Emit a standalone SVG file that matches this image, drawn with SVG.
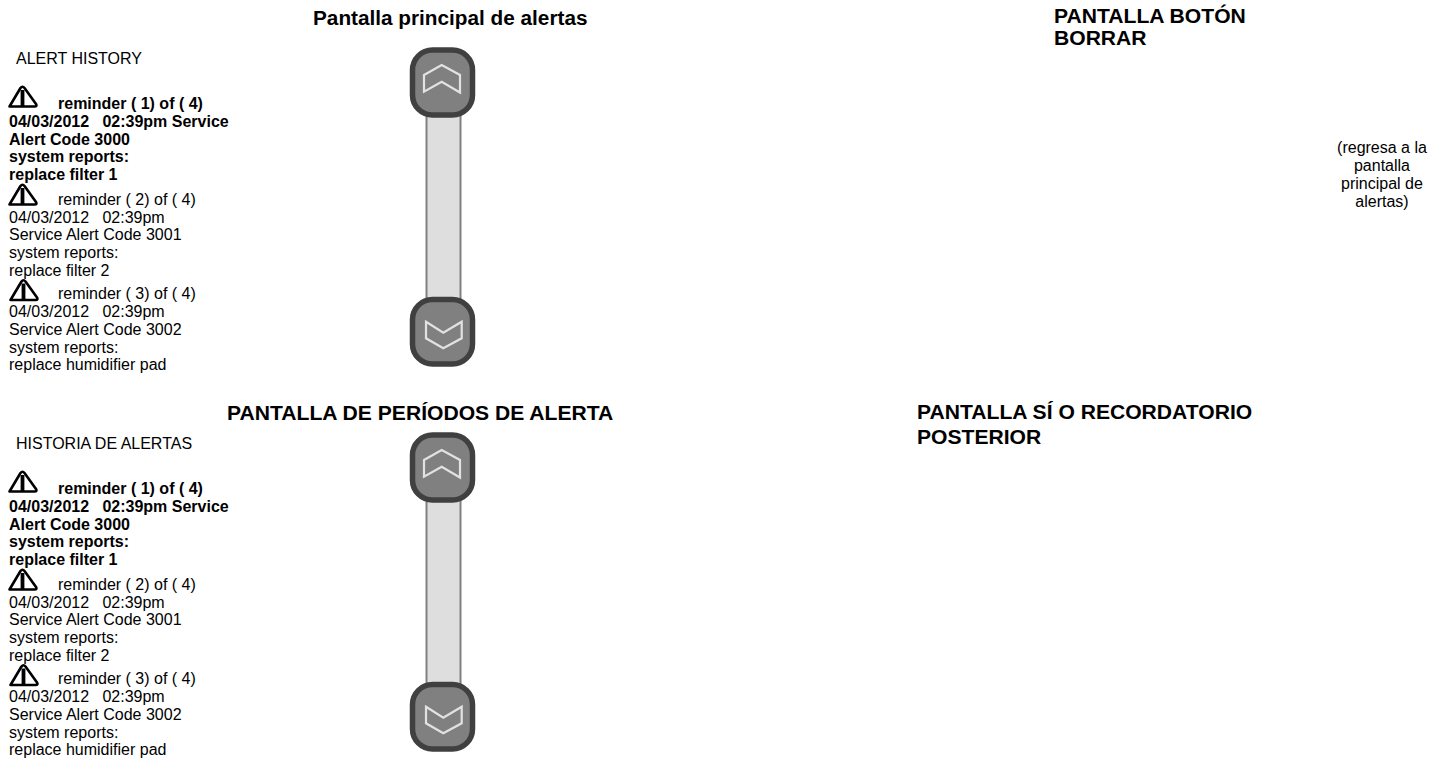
<svg xmlns="http://www.w3.org/2000/svg" width="1444" height="759" viewBox="0 0 1444 759">
<style>
text{font-family:"Liberation Sans",Arial,sans-serif;fill:#000;white-space:pre}
.t{font-size:20.75px;font-weight:bold}
.h{font-size:21.1px;font-weight:bold}
.b{font-size:16px}
.bb{font-size:16px;font-weight:bold}
.c{font-size:16px;text-anchor:middle}
.btn{fill:#808080;stroke:#404040;stroke-width:5.5}
.trk{fill:#dedede;stroke:#808080;stroke-width:2}
.chev{fill:none;stroke:#e2e2e2;stroke-width:2.2}
</style>
<defs>
<g id="warn">
<path d="M2.5 21.5 L13.5 3 Q15.5 0.5 17.5 3 L29 19 Q30.5 21.5 27.5 21.5 Z" fill="none" stroke="#000" stroke-width="2.6" stroke-linejoin="round"/>
<path d="M15.5 5 L15.5 22" stroke="#000" stroke-width="3.8" fill="none"/>
</g>
<g id="alerts">
<use href="#warn" x="7" y="85"/>
<text class="bb" x="58" y="109">reminder ( 1) of ( 4)</text>
<text class="bb" x="9" y="127">04/03/2012   02:39pm Service</text>
<text class="bb" x="9" y="145">Alert Code 3000</text>
<text class="bb" x="9" y="162">system reports:</text>
<text class="bb" x="9" y="180">replace filter 1</text>
<use href="#warn" x="7" y="183"/>
<text class="b" x="58" y="205">reminder ( 2) of ( 4)</text>
<text class="b" x="9" y="223">04/03/2012   02:39pm</text>
<text class="b" x="9" y="240">Service Alert Code 3001</text>
<text class="b" x="9" y="258">system reports:</text>
<text class="b" x="9" y="276">replace filter 2</text>
<use href="#warn" x="8" y="278.5"/>
<text class="b" x="58" y="299">reminder ( 3) of ( 4)</text>
<text class="b" x="9" y="317">04/03/2012   02:39pm</text>
<text class="b" x="9" y="335">Service Alert Code 3002</text>
<text class="b" x="9" y="353">system reports:</text>
<text class="b" x="9" y="370">replace humidifier pad</text>
</g>
<g id="scroll">
<rect class="trk" x="426.5" y="112" width="34" height="190"/>
<rect class="btn" x="412.5" y="50" width="60" height="65" rx="20"/>
<path class="chev" d="M424 75 L441.7 65 L460 75 L460 92.5 L441.7 81.7 L424 91.7 Z"/>
<rect class="btn" x="412.5" y="299.5" width="60" height="64.5" rx="20"/>
<path class="chev" d="M426 321.7 L443.3 332.7 L461.7 321.7 L461.7 338.3 L443.3 348.3 L426 338.3 Z"/>
</g>
</defs>
<g id="pantalla-principal">
<text class="t" x="313" y="25">Pantalla principal de alertas</text>
<text class="b" x="16" y="64">ALERT HISTORY</text>
<use href="#alerts"/>
<use href="#scroll"/>
</g>
<g id="pantalla-boton-borrar">
<text class="h" x="1054" y="23">PANTALLA BOTÓN</text>
<text class="h" x="1054" y="45">BORRAR</text>
<text class="c" x="1382" y="153">(regresa a la</text>
<text class="c" x="1382" y="171">pantalla</text>
<text class="c" x="1382" y="189">principal de</text>
<text class="c" x="1382" y="207">alertas)</text>
</g>
<g id="pantalla-periodos">
<text class="h" x="227" y="420">PANTALLA DE PERÍODOS DE ALERTA</text>
<text class="b" x="16" y="449">HISTORIA DE ALERTAS</text>
<use href="#alerts" y="385"/>
<use href="#scroll" y="385"/>
</g>
<g id="pantalla-si">
<text class="h" x="917" y="419">PANTALLA SÍ O RECORDATORIO</text>
<text class="h" x="917" y="444">POSTERIOR</text>
</g>
<g id="connectors"/>
</svg>
